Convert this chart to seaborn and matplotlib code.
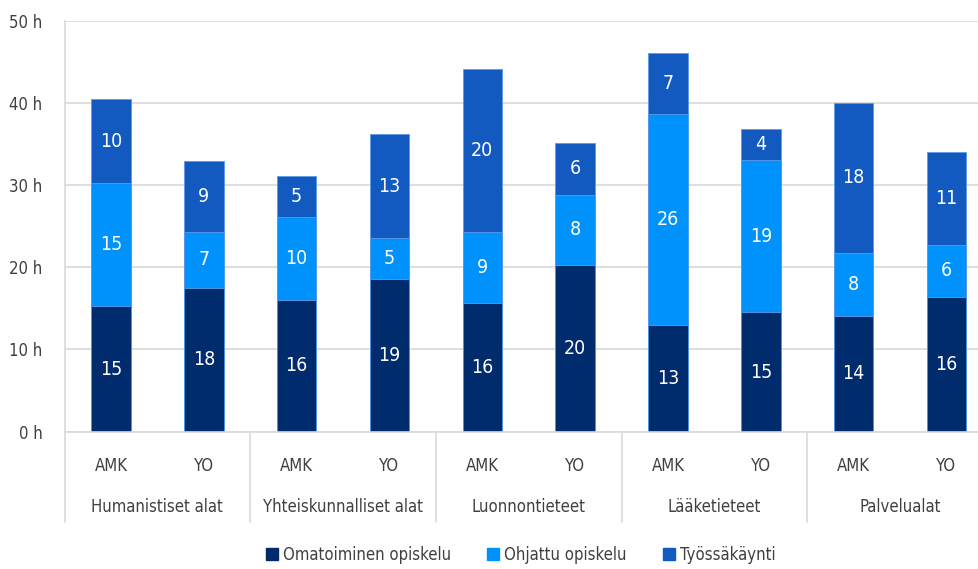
import numpy as np
import pandas as pd
import matplotlib
matplotlib.use('Agg')
import matplotlib.pyplot as plt
import matplotlib.patches as mpatches
import matplotlib.transforms as mtransforms
import seaborn as sns

sns.set_style('white')
plt.rcParams['font.family'] = ['DejaVu Sans']
plt.rcParams['font.stretch'] = 'condensed'

# data
fields = ['Humanistiset alat', 'Yhteiskunnalliset alat', 'Luonnontieteet', 'Lääketieteet', 'Palvelualat']
schools = ['AMK', 'YO']
omatoiminen = [15.25, 17.52, 16.06, 18.52, 15.66, 20.32, 13.02, 14.52, 14.11, 16.42]
ohjattu = [14.97, 6.74, 10.10, 5.01, 8.63, 8.45, 25.67, 18.50, 7.67, 6.26]
tyossakaynti = [10.20, 8.71, 4.91, 12.72, 19.80, 6.40, 7.43, 3.77, 18.21, 11.31]
series_names = ['Omatoiminen opiskelu', 'Ohjattu opiskelu', 'Työssäkäynti']
colors = ['#002b6c', '#0092fc', '#125ac0']

bar_ids = [f'{f} {s}' for f in fields for s in schools]
df = pd.DataFrame({'bar': bar_ids,
                   'oma': omatoiminen,
                   'ohj': ohjattu,
                   'tyo': tyossakaynti})
df['c1'] = df['oma']
df['c2'] = df['oma'] + df['ohj']
df['c3'] = df['c2'] + df['tyo']

fig = plt.figure(figsize=(9.79, 5.69), dpi=100)
ax = fig.add_axes([64.6 / 979, 1 - 431.7 / 569, 1 - 64.6 / 979, 411 / 569])

# stacked bars by overlaying cumulative totals
for col, c in zip(['c3', 'c2', 'c1'], colors[::-1]):
    sns.barplot(data=df, x='bar', y=col, order=bar_ids, color=c, width=0.425,
                edgecolor='#5b9be8', linewidth=0.6, saturation=1, ax=ax)

def rnd(v):
    return int(np.floor(v + 0.5))

for i, row in df.iterrows():
    bottoms = [0, row['c1'], row['c2']]
    for b, v in zip(bottoms, [row['oma'], row['ohj'], row['tyo']]):
        ax.text(i, b + v / 2, str(rnd(v)), ha='center', va='center',
                color='white', fontsize=14)

ax.set_ylim(0, 50)
ax.set_xlim(-0.5, 9.35)
ax.set_yticks(range(0, 51, 10))
ax.set_yticklabels([f'{v} h' for v in range(0, 51, 10)], fontsize=12, color='#404040')
ax.yaxis.grid(True, color='#d9d9d9', linewidth=1.2)
ax.set_axisbelow(True)
ax.tick_params(axis='y', length=0, pad=16)
ax.tick_params(axis='x', length=0, pad=18)
ax.set_xticks(range(len(bar_ids)))
ax.set_xticklabels([s for f in fields for s in schools], fontsize=12, color='#404040')
ax.set_xlabel('')
ax.set_ylabel('')
for side in ['top', 'right']:
    ax.spines[side].set_visible(False)
ax.spines['left'].set_color('#d9d9d9')
ax.spines['left'].set_linewidth(1.2)
ax.spines['bottom'].set_color('#d9d9d9')
ax.spines['bottom'].set_linewidth(1.2)

# group separators and field labels below the axis
trans = mtransforms.blended_transform_factory(ax.transData, ax.transAxes)
for k in range(len(fields)):
    x0 = 2 * k - 0.5
    ax.plot([x0, x0], [0, -90 / 411], transform=trans, color='#d9d9d9',
            linewidth=1.2, clip_on=False)
    ax.text(2 * k + 0.5, -75 / 411, fields[k], transform=trans, ha='center',
            va='center', fontsize=12, color='#404040')

handles = [mpatches.Patch(color=c, label=n) for c, n in zip(colors, series_names)]
fig.legend(handles=handles, loc='center', bbox_to_anchor=(0.532, 1 - 555 / 569), ncol=3,
           frameon=False, fontsize=12, handlelength=0.7, handleheight=0.7,
           handletextpad=0.3, columnspacing=2.2, labelcolor='#404040')

fig.savefig('out.png', dpi=100)
